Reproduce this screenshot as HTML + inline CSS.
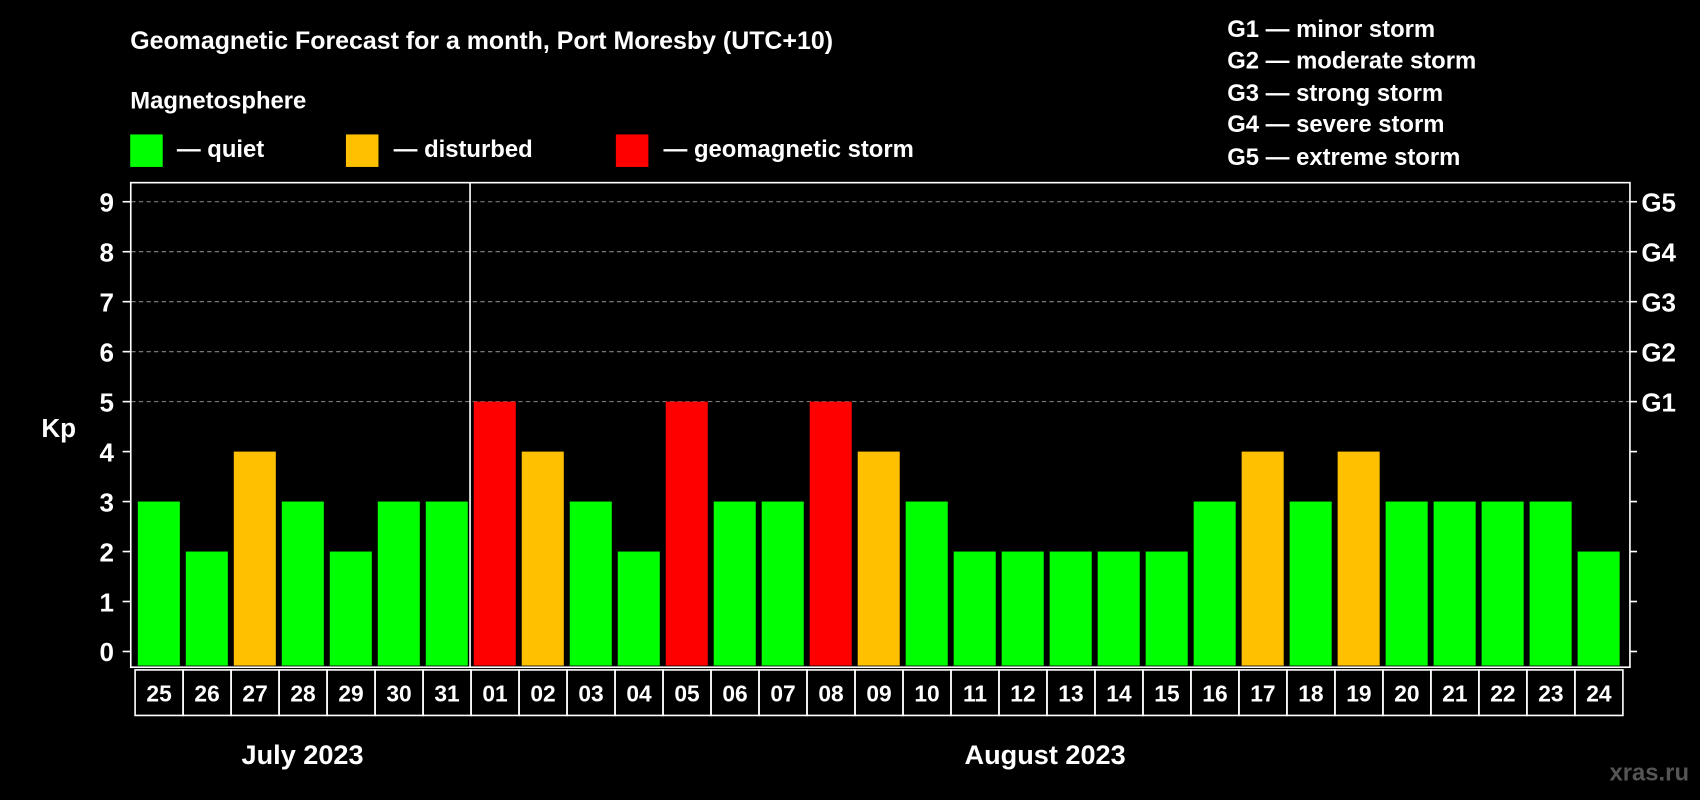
<!DOCTYPE html>
<html><head><meta charset="utf-8"><style>
html,body{margin:0;padding:0;background:#000;}
svg{display:block;font-family:"Liberation Sans",Arial,sans-serif;font-weight:bold;}
</style></head><body>
<svg id="chart" width="1700" height="800" viewBox="0 0 1568 738" xmlns="http://www.w3.org/2000/svg">
<rect width="1568" height="738" fill="#000"/>
<text x="120" y="45" fill="#fff" font-size="23">Geomagnetic Forecast for a month, Port Moresby (UTC+10)</text>
<text x="120" y="100" fill="#fff" font-size="22">Magnetosphere</text>
<g><rect x="120" y="124" width="30" height="30" fill="#00ff00"/><text x="163" y="145" fill="#fff" font-size="22">— quiet</text></g>
<g><rect x="319" y="124" width="30" height="30" fill="#ffc000"/><text x="363" y="145" fill="#fff" font-size="22">— disturbed</text></g>
<g><rect x="568" y="124" width="30" height="30" fill="#ff0000"/><text x="612" y="145" fill="#fff" font-size="22">— geomagnetic storm</text></g>
<g fill="#fff" font-size="22">
<text x="1132" y="34">G1 — minor storm</text>
<text x="1132" y="63">G2 — moderate storm</text>
<text x="1132" y="93">G3 — strong storm</text>
<text x="1132" y="122">G4 — severe storm</text>
<text x="1132" y="152">G5 — extreme storm</text>
</g>
<text x="38" y="403" fill="#fff" font-size="24">Kp</text>
<g id="grid"></g>
<g id="bars"></g>
<rect x="120.5" y="168.5" width="1383" height="447" fill="none" stroke="#fff" stroke-width="1.5"/>
<line x1="433.5" y1="168" x2="433.5" y2="615" stroke="#fff" stroke-width="1.5"/>
<g id="axes"></g>
<text x="279" y="705" fill="#fff" font-size="25" text-anchor="middle">July 2023</text>
<text x="964" y="705" fill="#fff" font-size="25" text-anchor="middle">August 2023</text>
<text x="1558" y="720" fill="#555" font-size="22" text-anchor="end">xras.ru</text>
</svg>
<script>
const days = ["25","26","27","28","29","30","31","01","02","03","04","05","06","07","08","09","10","11","12","13","14","15","16","17","18","19","20","21","22","23","24"];
const kpValues = [3,2,4,3,2,3,3,5,4,3,2,5,3,3,5,4,3,2,2,2,2,2,3,4,3,4,3,3,3,3,2];
const yTicks = [0,1,2,3,4,5,6,7,8,9];
const gLabels = ["G1","G2","G3","G4","G5"];
const NS="http://www.w3.org/2000/svg";
const slot0=122.5, slotW=(1495-122.5)/31, barBottom=614;
function y(v){return 601-v*46.1;}
function x(i){return slot0+i*slotW;}
function color(v){return v>=5?"#ff0000":(v>=4?"#ffc000":"#00ff00");}
function mk(t,a,p){const e=document.createElementNS(NS,t);for(const k in a)e.setAttribute(k,a[k]);p.appendChild(e);return e;}
const grid=document.getElementById('grid'),bars=document.getElementById('bars'),axes=document.getElementById('axes');
gLabels.forEach((g,i)=>{const v=5+i;
 const l=mk('line',{x1:121,x2:1503,y1:y(v),y2:y(v),stroke:'#888','stroke-dasharray':'4,3','stroke-width':1},grid);
 
 
 const t=mk('text',{x:1514,y:y(v)+9,fill:'#fff','font-size':24},axes);t.textContent=g;
 
 
});
yTicks.forEach(v=>{
 mk('line',{x1:113,x2:120,y1:y(v),y2:y(v),stroke:'#fff','stroke-width':1.5},axes);
 mk('line',{x1:1503,x2:1510,y1:y(v),y2:y(v),stroke:'#fff','stroke-width':1.5},axes);
 const t=mk('text',{x:105,y:y(v)+9,fill:'#fff','font-size':24,'text-anchor':'end'},axes);t.textContent=v;
 
 
});
kpValues.forEach((v,i)=>{
 const r=mk('rect',{x:x(i)+4.5,y:y(v),width:slotW-5.5,height:barBottom-y(v),fill:color(v)},bars);
 
 
 const b=mk('rect',{x:x(i)+2,y:618,width:slotW,height:42,fill:'none',stroke:'#fff','stroke-width':1.5},axes);
 
 
 const t=mk('text',{x:x(i)+2+slotW/2,y:647,fill:'#fff','font-size':21,'text-anchor':'middle'},axes);t.textContent=days[i];
 
 
});
</script>
</body></html>
